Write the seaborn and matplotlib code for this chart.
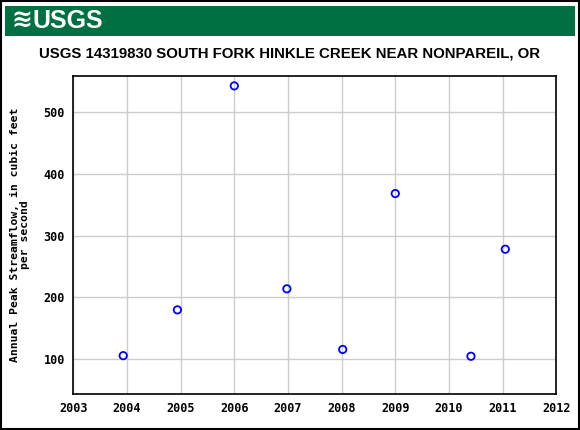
import matplotlib
matplotlib.use("Agg")
import matplotlib.pyplot as plt
from matplotlib.patches import Rectangle
import seaborn as sns
import pandas as pd

# annual peak streamflow
water_year = [2003.93, 2004.94, 2006.0, 2006.98, 2008.02, 2009.0, 2010.41, 2011.05]
peak_cfs = [106, 180, 542, 214, 116, 368, 105, 278]
x_ticks = [2003, 2004, 2005, 2006, 2007, 2008, 2009, 2010, 2011, 2012]
y_ticks = [100, 200, 300, 400, 500]

df = pd.DataFrame({"year": water_year, "peak": peak_cfs})

sns.set_style("white")
plt.rcParams["text.color"] = "black"
mono = ["DejaVu Sans Mono"]

fig = plt.figure(figsize=(5.8, 4.3), dpi=100)
ax = fig.add_axes([0.1264, 0.0837, 0.8327, 0.7396])

sns.scatterplot(data=df, x="year", y="peak", ax=ax, marker="o", s=28,
                facecolor="none", edgecolor="#0000ff", linewidth=1.3, zorder=3)

ax.set_xlim(2003, 2012)
ax.set_ylim(44, 558)
ax.set_xticks(x_ticks)
ax.set_yticks(y_ticks)
ax.grid(True, color="#cccccc", linewidth=1)
ax.set_axisbelow(True)
for s in ax.spines.values():
    s.set_color("black")
    s.set_linewidth(1.2)
ax.tick_params(length=0, pad=6, colors="black")
for lab in ax.get_xticklabels() + ax.get_yticklabels():
    lab.set_family(mono)
    lab.set_fontweight("bold")
    lab.set_fontsize(8.5)
ax.set_xlabel("")
ax.set_ylabel("Annual Peak Streamflow, in cubic feet\nper second", family=mono,
              fontweight="bold", fontsize=8.2, labelpad=10, linespacing=0.95,
              color="black")

# outer frame and green banner
fig.patches.append(Rectangle((0.002, 0.002), 0.996, 0.996, transform=fig.transFigure,
                             fill=False, edgecolor="black", linewidth=1.5))
fig.patches.append(Rectangle((5 / 580, 1 - 36 / 430), 570 / 580, 30 / 430,
                             transform=fig.transFigure, facecolor="#006f41",
                             edgecolor="none"))
fig.text(11 / 580, 1 - 21 / 430, "≋", color="white", fontsize=18, fontweight="bold",
         va="center", ha="left", family=["DejaVu Sans"])
fig.text(32 / 580, 1 - 21 / 430, "USGS", color="white", fontsize=18, fontweight="bold",
         va="center", ha="left", family=["Liberation Sans"])

fig.text(0.5, 1 - 53 / 430, "USGS 14319830 SOUTH FORK HINKLE CREEK NEAR NONPAREIL, OR",
         ha="center", va="center", fontsize=10.8, fontweight="bold", color="black",
         family=["Liberation Sans"])

fig.savefig("out.png", dpi=100)
